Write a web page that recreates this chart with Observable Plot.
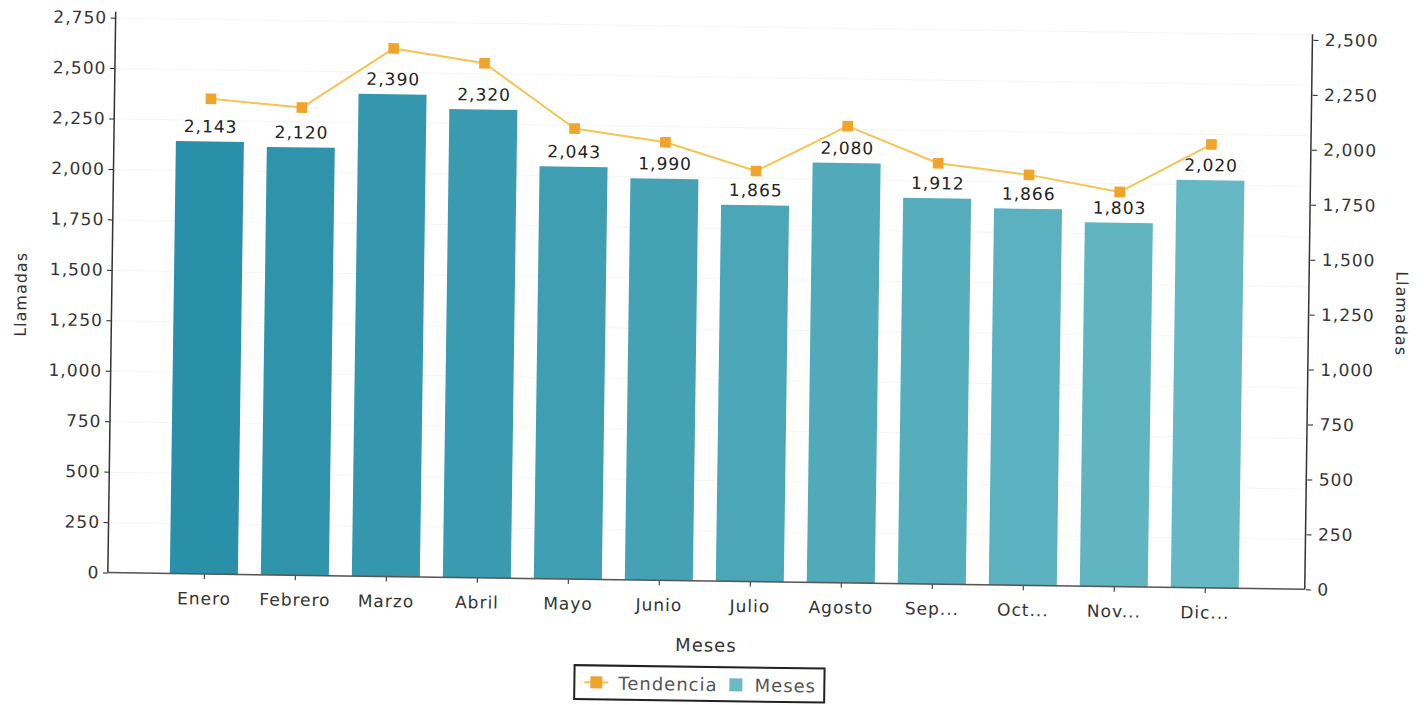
<!DOCTYPE html>
<html><head><meta charset="utf-8">
<script src="https://cdn.jsdelivr.net/npm/d3@7"></script>
<script src="https://cdn.jsdelivr.net/npm/@observablehq/plot@0.6"></script>
<style>
body{margin:0;background:#fff;font-family:"DejaVu Sans",sans-serif;overflow:hidden}
#wrap{width:1424px;height:705px;position:relative;background:#fff;transform:rotate(0.8deg);transform-origin:712px 352px}
#legend{position:absolute;left:578px;top:666px;width:252px;height:36px;border:2px solid #222;box-sizing:border-box;display:flex;align-items:center;padding-left:9px;font-size:18px;color:#555;letter-spacing:1px;white-space:nowrap}
#legend .ln{position:relative;width:24px;height:12px;margin-right:10px;flex:none}
#legend .ln:before{content:"";position:absolute;left:0;right:0;top:5px;height:2px;background:#f5c452}
#legend .ln:after{content:"";position:absolute;left:6px;top:0;width:12px;height:12px;background:#f0a42a}
#legend .sq{width:13px;height:13px;background:#6ab9c4;margin:0 12px 0 12px;flex:none}
</style></head>
<body><div id="wrap"><div id="chart"></div>
<div id="legend"><span class="ln"></span><span>Tendencia</span><span class="sq"></span><span>Meses</span></div></div>
<script>
const months = ["Enero","Febrero","Marzo","Abril","Mayo","Junio","Julio","Agosto","Sep...","Oct...","Nov...","Dic..."];
const llamadas = [2143,2120,2390,2320,2043,1990,1865,2080,1912,1866,1803,2020];
const tendencia = [2164,2130,2405,2343,2052,1995,1870,2080,1917,1870,1798,2020];
const leftTicks = [0,250,500,750,1000,1250,1500,1750,2000,2250,2500,2750];
const rightTicks = [0,250,500,750,1000,1250,1500,1750,2000,2250,2500];
const leftMax = 2750, rightMax = 2525;
const k = leftMax / rightMax;

const data = months.map((m, i) => ({mes: m, llamadas: llamadas[i], tendencia: tendencia[i], i}));
const fmt = d3.format(",");
const W = 1424, H = 662;
const plotTop = 26, plotBottom = 581;

const axisLines = (index, scales, values, dims) => {
  const g = d3.create("svg:g").attr("stroke", "#333").attr("stroke-width", 1.5);
  const x0 = dims.marginLeft, x1 = dims.width - dims.marginRight;
  const y0 = dims.marginTop, y1 = dims.height - dims.marginBottom;
  g.append("line").attr("x1", x0).attr("x2", x0).attr("y1", y0 - 6).attr("y2", y1);
  g.append("line").attr("x1", x1).attr("x2", x1).attr("y1", y0).attr("y2", y1);
  g.append("line").attr("x1", x0).attr("x2", x1).attr("y1", y1).attr("y2", y1).attr("stroke", "#555");
  return g.node();
};

const chart = Plot.plot({
  width: W, height: H,
  marginLeft: 111, marginRight: W - 1308, marginTop: plotTop, marginBottom: H - plotBottom,
  style: {fontFamily: "DejaVu Sans, sans-serif", fontSize: "17px", color: "#222", background: "transparent", letterSpacing: "1px"},
  x: {domain: months, paddingInner: 0.25, paddingOuter: 0.125, insetLeft: 47, insetRight: 50, label: null},
  y: {domain: [0, leftMax], label: null},
  color: {type: "linear", domain: [0, 11], range: ["#2a8fa8", "#66b9c4"]},
  marks: [
    Plot.gridY(leftTicks, {stroke: "#000", strokeOpacity: 0.045}),
    Plot.barY(data, {x: "mes", y: "llamadas", fill: "i"}),
    Plot.text(data, {x: "mes", y: "llamadas", text: d => fmt(d.llamadas), dy: -15, fontSize: 17, fill: "#222"}),
    Plot.line(data, {x: "mes", y: d => d.tendencia * k, stroke: "#f5c452", strokeWidth: 2}),
    Plot.dot(data, {x: "mes", y: d => d.tendencia * k, symbol: "square", r: 6, fill: "#f0a42a", stroke: "none"}),
    Plot.axisY(leftTicks, {anchor: "left", tickSize: 5, tickPadding: 4, tickFormat: fmt, label: null, fontSize: 17, letterSpacing: 1.5, fill: "#333"}),
    Plot.axisY(rightTicks.map(v => v * k), {anchor: "right", tickSize: 5, tickPadding: 7, tickFormat: d => fmt(Math.round(d / k)), label: null, fontSize: 17, letterSpacing: 1.5, fill: "#333"}),
    Plot.axisX({tickSize: 5, tickPadding: 13, label: null, fontSize: 17, letterSpacing: 1.5, fill: "#333"}),
    axisLines,
    Plot.text(["Llamadas"], {frameAnchor: "left", textAnchor: "middle", dx: -91, rotate: -90, fontSize: 16, fill: "#333"}),
    Plot.text(["Llamadas"], {frameAnchor: "right", textAnchor: "middle", dx: 92, rotate: 90, fontSize: 16, fill: "#333"}),
    Plot.text(["Meses"], {frameAnchor: "bottom", textAnchor: "middle", dy: 70, fontSize: 18, fill: "#333"})
  ]
});
document.getElementById("chart").append(chart);
</script>
</body></html>
